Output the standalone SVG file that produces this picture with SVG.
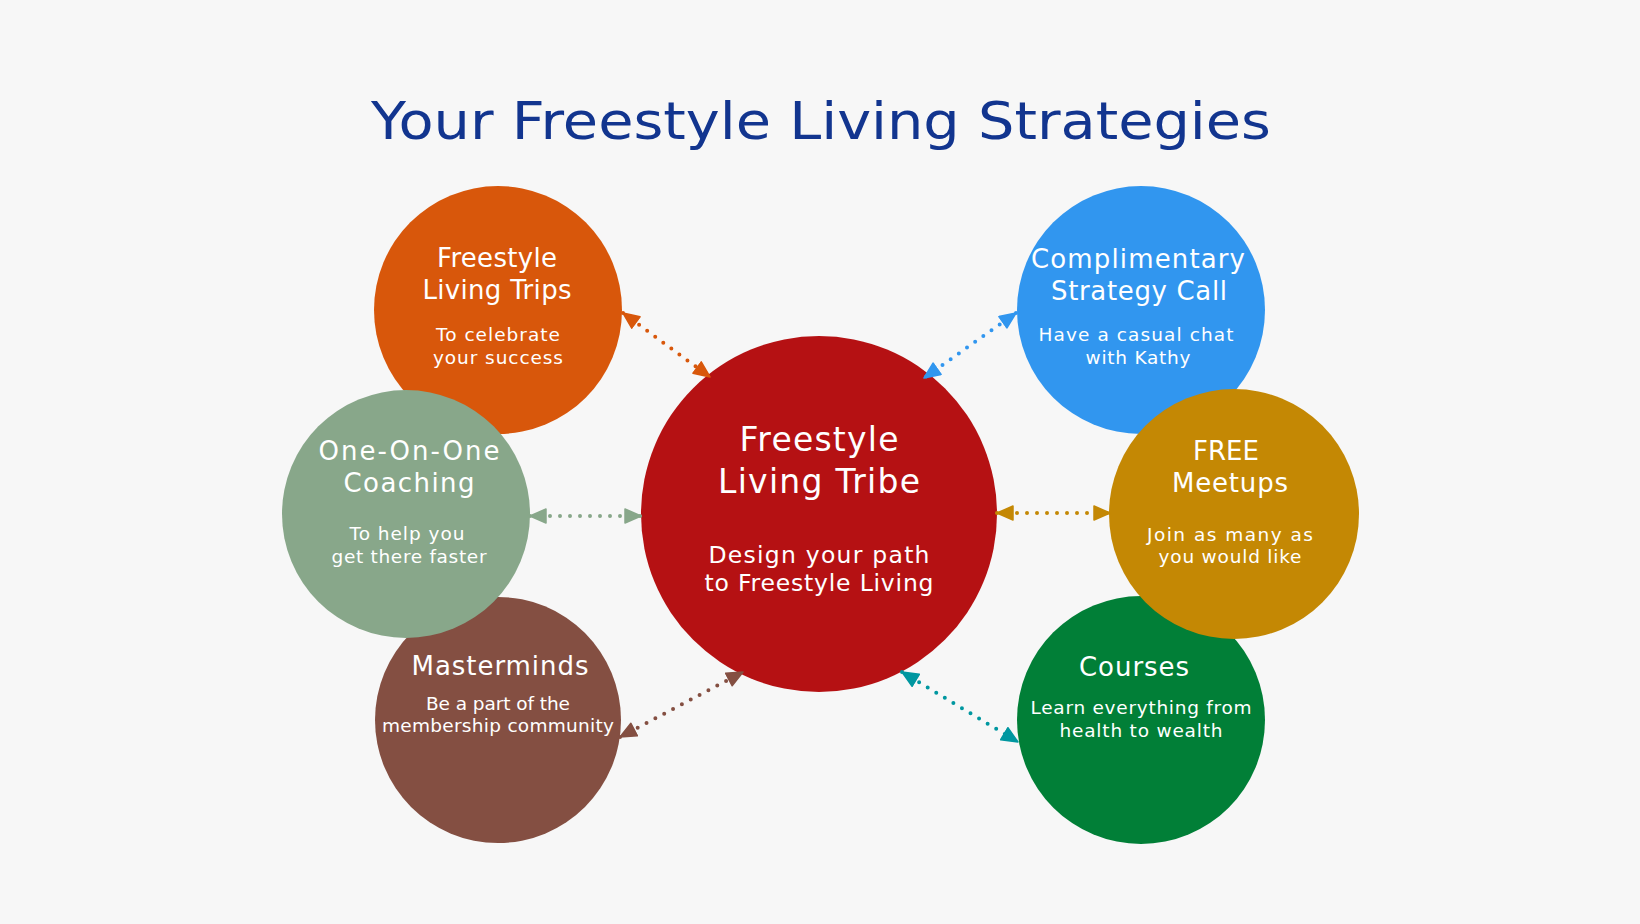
<svg xmlns="http://www.w3.org/2000/svg" width="1640" height="924" viewBox="0 0 1640 924">
<style>
.bg{fill:#F7F7F7}
.t{font-family:"DejaVu Sans","Noto Sans",sans-serif;fill:#FFFFFF;text-anchor:middle}
.h{font-size:26px}
.s{font-size:18.5px}
.hc{font-size:33px}
.sc{font-size:23.5px}
.title{font-family:"DejaVu Sans","Noto Sans",sans-serif;font-size:52px;fill:#12358F;text-anchor:middle}
.dot{fill:none;stroke-width:4;stroke-linecap:round;stroke-dasharray:0 10}
</style>
<defs>
<marker id="mO" viewBox="-1 -8 18 16" refX="16" refY="0" markerWidth="18" markerHeight="16" markerUnits="userSpaceOnUse" orient="auto-start-reverse"><path d="M0,-7 L16,0 L0,7 Z" fill="#D8570B" stroke="#D8570B" stroke-width="1.5" stroke-linejoin="round"/></marker>
<marker id="mB" viewBox="-1 -8 18 16" refX="16" refY="0" markerWidth="18" markerHeight="16" markerUnits="userSpaceOnUse" orient="auto-start-reverse"><path d="M0,-7 L16,0 L0,7 Z" fill="#3196EF" stroke="#3196EF" stroke-width="1.5" stroke-linejoin="round"/></marker>
<marker id="mS" viewBox="-1 -8 18 16" refX="16" refY="0" markerWidth="18" markerHeight="16" markerUnits="userSpaceOnUse" orient="auto-start-reverse"><path d="M0,-7 L16,0 L0,7 Z" fill="#88A78A" stroke="#88A78A" stroke-width="1.5" stroke-linejoin="round"/></marker>
<marker id="mG" viewBox="-1 -8 18 16" refX="16" refY="0" markerWidth="18" markerHeight="16" markerUnits="userSpaceOnUse" orient="auto-start-reverse"><path d="M0,-7 L16,0 L0,7 Z" fill="#C48804" stroke="#C48804" stroke-width="1.5" stroke-linejoin="round"/></marker>
<marker id="mR" viewBox="-1 -8 18 16" refX="16" refY="0" markerWidth="18" markerHeight="16" markerUnits="userSpaceOnUse" orient="auto-start-reverse"><path d="M0,-7 L16,0 L0,7 Z" fill="#844F42" stroke="#844F42" stroke-width="1.5" stroke-linejoin="round"/></marker>
<marker id="mT" viewBox="-1 -8 18 16" refX="16" refY="0" markerWidth="18" markerHeight="16" markerUnits="userSpaceOnUse" orient="auto-start-reverse"><path d="M0,-7 L16,0 L0,7 Z" fill="#0097A0" stroke="#0097A0" stroke-width="1.5" stroke-linejoin="round"/></marker>
</defs>
<rect class="bg" x="0" y="0" width="1640" height="924"/>
<text class="title" x="821" y="139" textLength="900" lengthAdjust="spacingAndGlyphs">Your Freestyle Living Strategies</text>

<g id="node-trips">
<circle cx="498" cy="310" r="124" fill="#D8570B"/>
<text class="t h" x="497" y="267" textLength="120">Freestyle</text>
<text class="t h" x="497" y="299" textLength="149">Living Trips</text>
<text class="t s" x="498" y="341" textLength="124">To celebrate</text>
<text class="t s" x="498" y="364" textLength="130">your success</text>
</g>
<g id="node-masterminds">
<circle cx="498" cy="720" r="123" fill="#844F42"/>
<text class="t h" x="500" y="675" textLength="177">Masterminds</text>
<text class="t s" x="498" y="710" textLength="144">Be a part of the</text>
<text class="t s" x="498" y="732" textLength="232">membership community</text>
</g>
<g id="node-coaching">
<circle cx="406" cy="514" r="124" fill="#88A78A"/>
<text class="t h" x="409" y="460" textLength="181">One-On-One</text>
<text class="t h" x="409" y="492" textLength="131">Coaching</text>
<text class="t s" x="407" y="540" textLength="115">To help you</text>
<text class="t s" x="409" y="563" textLength="155">get there faster</text>
</g>
<g id="node-call">
<circle cx="1141" cy="310" r="124" fill="#3196EF"/>
<text class="t h" x="1138" y="268" textLength="214">Complimentary</text>
<text class="t h" x="1139" y="300" textLength="176">Strategy Call</text>
<text class="t s" x="1136" y="341" textLength="195">Have a casual chat</text>
<text class="t s" x="1138" y="364" textLength="105">with Kathy</text>
</g>
<g id="node-courses">
<circle cx="1141" cy="720" r="124" fill="#017F37"/>
<text class="t h" x="1134" y="676" textLength="110">Courses</text>
<text class="t s" x="1141" y="714" textLength="221">Learn everything from</text>
<text class="t s" x="1141" y="737" textLength="163">health to wealth</text>
</g>
<g id="node-meetups">
<circle cx="1234" cy="514" r="125" fill="#C48804"/>
<text class="t h" x="1226" y="460">FREE</text>
<text class="t h" x="1230" y="492" textLength="116">Meetups</text>
<text class="t s" x="1230" y="541" textLength="166">Join as many as</text>
<text class="t s" x="1230" y="563" textLength="143">you would like</text>
</g>
<g id="node-tribe">
<circle cx="819" cy="514" r="178" fill="#B51113"/>
<text class="t hc" x="819" y="451" textLength="159">Freestyle</text>
<text class="t hc" x="819" y="493" textLength="202">Living Tribe</text>
<text class="t sc" x="819" y="563" textLength="221">Design your path</text>
<text class="t sc" x="819" y="591" textLength="229">to Freestyle Living</text>
</g>

<g id="connectors">
<path class="dot" d="M623,313 L710,377" stroke="#D8570B" marker-start="url(#mO)" marker-end="url(#mO)"/>
<path class="dot" d="M1016,313 L924,378" stroke="#3196EF" marker-start="url(#mB)" marker-end="url(#mB)"/>
<path class="dot" d="M530,516 L641,516" stroke="#88A78A" marker-start="url(#mS)" marker-end="url(#mS)"/>
<path class="dot" d="M997,513 L1110,513" stroke="#C48804" marker-start="url(#mG)" marker-end="url(#mG)"/>
<path class="dot" d="M620,737 L743,672" stroke="#844F42" marker-start="url(#mR)" marker-end="url(#mR)"/>
<path class="dot" d="M902,672 L1018,742" stroke="#0097A0" marker-start="url(#mT)" marker-end="url(#mT)"/>
</g>
</svg>
